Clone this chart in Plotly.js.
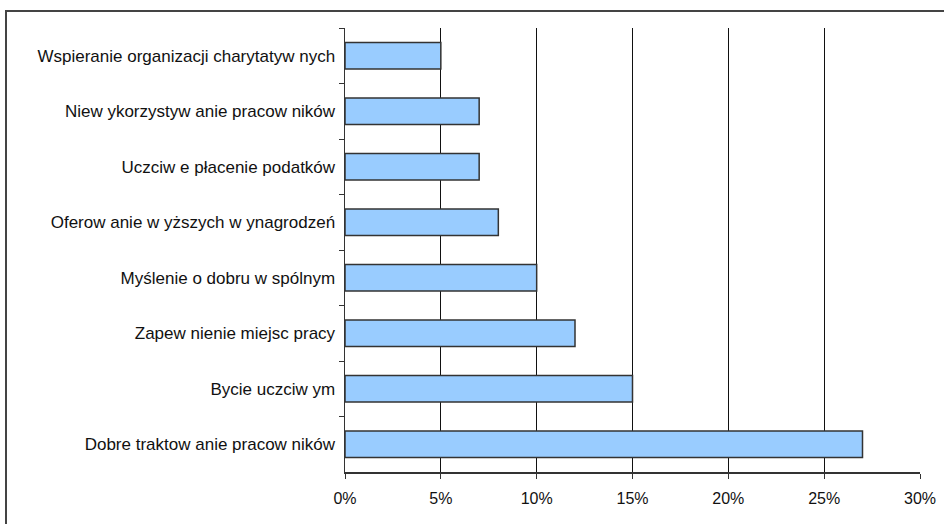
<!DOCTYPE html>
<html>
<head>
<meta charset="utf-8">
<script src="https://cdn.plot.ly/plotly-3.0.1.min.js"></script>
<style>
html,body{margin:0;padding:0;background:#fff;}
#wrap{position:relative;width:944px;height:524px;overflow:hidden;}
#frame{position:absolute;left:5px;top:10px;width:960px;height:540px;border-left:2px solid #444;border-top:2px solid #444;pointer-events:none;}
#chart{position:absolute;left:0;top:0;width:944px;height:524px;}
</style>
</head>
<body>
<div id="wrap">
<div id="chart"></div>
<div id="frame"></div>
</div>
<script>
var categories = [
  "Wspieranie organizacji charytatyw nych",
  "Niew ykorzystyw anie pracow ników",
  "Uczciw e płacenie podatków",
  "Oferow anie w yższych w ynagrodzeń",
  "Myślenie o dobru w spólnym",
  "Zapew nienie miejsc pracy",
  "Bycie uczciw ym",
  "Dobre traktow anie pracow ników"
];
var values = [0.05, 0.07, 0.07, 0.08, 0.10, 0.12, 0.15, 0.27];
var tickVals = [0, 0.05, 0.10, 0.15, 0.20, 0.25, 0.30];
var tickLabels = ["0%", "5%", "10%", "15%", "20%", "25%", "30%"];

var trace = {
  type: "bar",
  orientation: "h",
  x: values,
  y: categories,
  marker: {color: "#99CCFF", line: {color: "#333333", width: 1.5}},
  hoverinfo: "none"
};

var layout = {
  width: 944,
  height: 524,
  margin: {l: 345, r: 24, t: 28, b: 52},
  paper_bgcolor: "#ffffff",
  plot_bgcolor: "#ffffff",
  font: {family: "Liberation Sans, Arial, sans-serif", size: 14, color: "#111"},
  showlegend: false,
  bargap: 0.52,
  xaxis: {
    range: [0, 0.3],
    tickvals: tickVals,
    ticktext: tickLabels,
    showgrid: true,
    gridcolor: "#111",
    gridwidth: 1,
    zeroline: false,
    showline: true,
    linecolor: "#333",
    linewidth: 1.5,
    ticks: "outside",
    ticklen: 5,
    tickcolor: "#333",
    ticklabelstandoff: 6,
    tickfont: {size: 16, color: "#111"},
    fixedrange: true
  },
  yaxis: {
    type: "category",
    categoryorder: "array",
    categoryarray: categories,
    autorange: "reversed",
    showgrid: false,
    zeroline: false,
    showline: true,
    linecolor: "#333",
    linewidth: 1.5,
    ticks: "outside",
    tickson: "boundaries",
    ticklen: 5,
    tickcolor: "#333",
    ticklabelstandoff: 5,
    tickfont: {size: 17, color: "#111"},
    fixedrange: true
  }
};

Plotly.newPlot("chart", [trace], layout, {displayModeBar: false, staticPlot: true});
</script>
</body>
</html>
